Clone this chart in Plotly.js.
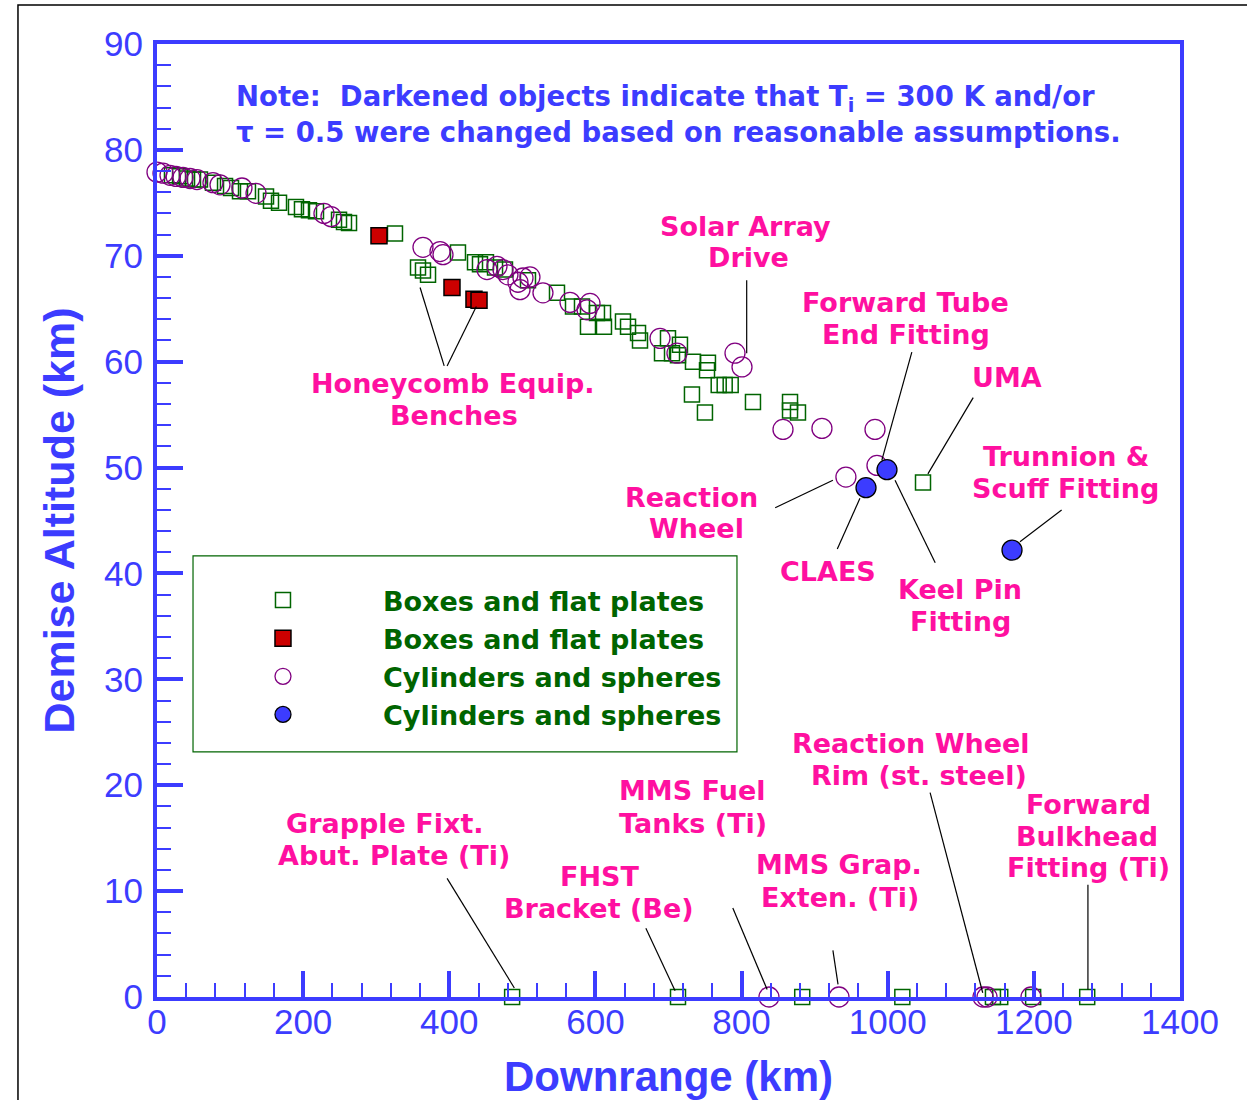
<!DOCTYPE html>
<html>
<head>
<meta charset="utf-8">
<script src="https://cdn.plot.ly/plotly-3.0.1.min.js"></script>
<style>html,body{margin:0;padding:0;background:#fff;}#chart{width:1247px;height:1100px;}</style>
</head>
<body>
<div id="chart"></div>
<script>
// ---- Data (downrange km, demise altitude km) ----
const boxOpenX = [20.5,31.5,41.1,49.3,58.8,76.6,93.1,101.3,113.6,124.5,149.2,156.0,167.0,190.2,198.4,208.0,217.6,249.1,255.9,262.8,325.7,
  357.2,364.0,370.9,411.9,435.2,442.0,450.2,462.6,476.2,507.7,547.4,569.3,581.6,602.1,610.4,589.8,611.7,637.7,644.6,658.3,661.0,699.3,715.7,
  691.1,704.8,713.0,733.5,754.0,752.7,768.7,776.9,785.1,732.1,749.9,815.6,866.3,866.3,877.2,1048.3,
  486,713,883,1020,1144,1154,1199,1273];
const boxOpenY = [77.6,77.5,77.3,77.2,77.2,76.9,76.6,76.4,76.1,76.1,75.6,75.2,75.0,74.6,74.4,74.3,74.2,73.4,73.2,73.1,72.1,
  68.9,68.6,68.2,70.3,69.4,69.2,69.4,68.9,68.7,67.7,66.5,65.2,65.2,64.6,64.6,63.3,63.3,63.8,63.3,62.7,62.0,62.2,61.6,
  60.8,60.8,60.6,60.0,59.9,59.2,57.8,57.8,57.8,56.9,55.2,56.2,56.2,55.4,55.2,48.6,
  0,0,0,0,0,0,0,0];

const boxDarkX = [303.8,403.7,433.8,440.7];
const boxDarkY = [71.9,67.0,65.9,65.8];

const cylOpenX = [0,8.2,17.8,26.0,35.6,45.2,54.7,76.6,86.2,116.3,135.5,228.5,238.1,
  364.0,387.3,391.4,451.6,465.3,473.5,480.3,494.0,500.9,510.4,496.8,528.2,565.2,592.6,588.5,
  688.4,711.6,791.0,800.6,856.7,910.0,982.6,985.3,942.8,
  837.5,933.3,1130.4,1135.9,1196.1];
const cylOpenY = [77.9,77.8,77.6,77.5,77.4,77.3,77.2,76.9,76.7,76.4,75.9,74.0,73.7,
  70.8,70.4,70.1,68.7,69.0,68.7,68.2,67.5,67.9,68.0,66.8,66.5,65.6,65.5,64.9,
  62.2,60.8,60.8,59.5,53.6,53.7,53.6,50.2,49.1,
  0,0,0,0,0];

const cylDarkX = [970.3,999.0,1170.1];
const cylDarkY = [48.1,49.8,42.2];

const seriesNames = ["Boxes and flat plates","Boxes and flat plates","Cylinders and spheres","Cylinders and spheres"];

// ---- Labels ----
const labelText = ["Solar Array","Drive","Forward Tube","End Fitting","UMA","Trunnion &","Scuff Fitting","Reaction","Wheel","CLAES",
  "Keel Pin","Fitting","Honeycomb Equip.","Benches","Reaction Wheel","Rim (st. steel)","Forward","Bulkhead","Fitting (Ti)",
  "MMS Fuel","Tanks (Ti)","MMS Grap.","Exten. (Ti)","FHST","Bracket (Be)","Grapple Fixt.","Abut. Plate (Ti)"];
const labelX = [806,809,1025,1025,1163,1244,1243,731,738,918,1099,1100,405,406,1032,1043,1275,1273,1275,732,733,933,935,605,605,312,324];
const labelY = [72.8,69.8,65.6,62.6,58.5,51.0,48.0,47.2,44.2,40.2,38.5,35.5,57.9,54.9,23.9,20.9,18.2,15.2,12.2,19.5,16.4,12.5,9.4,11.4,8.4,16.4,13.4];

// leader lines
const leadX0 = [807,1033,1117,1238,846,931,1010,360,437,1058,1274,788,925,669,397];
const leadY0 = [67.7,60.9,56.6,46.0,46.2,42.3,48.8,67.0,65.2,19.3,10.6,8.4,4.4,6.5,11.2];
const leadX1 = [807,992,1055,1181,925,962,1065,393,397,1130,1274,835,932,709,489];
const leadY1 = [60.8,50.7,49.4,43.0,48.8,47.1,41.0,59.6,59.6,0.4,0.7,0.7,1.2,0.6,0.85];

const noteText = "Note:  Darkened objects indicate that T<sub>i</sub> = 300 K and/or<br>" +
                 "\u03c4 = 0.5 were changed based on reasonable assumptions.";
const noteX = 105, noteY = 83.4;

// ---- Styles ----
const BLUE = '#3C3CFF', GREEN = '#006400', PINK = '#FF10A0', PURPLE = '#800080';
const labFont = {family: 'DejaVu Sans', size: 27, color: PINK, weight: 'bold'};

const traces = [
  {x: boxOpenX, y: boxOpenY, name: seriesNames[0], legendgroup: 'a', type: 'scatter', mode: 'markers', cliponaxis: false,
   marker: {symbol: 'square-open', size: 15, color: GREEN, line: {color: GREEN, width: 1.5}}},
  {x: boxDarkX, y: boxDarkY, name: seriesNames[1], legendgroup: 'b', type: 'scatter', mode: 'markers', cliponaxis: false,
   marker: {symbol: 'square', size: 16, color: '#CC0000', line: {color: '#000', width: 1.5}}},
  {x: cylOpenX, y: cylOpenY, name: seriesNames[2], legendgroup: 'c', type: 'scatter', mode: 'markers', cliponaxis: false,
   marker: {symbol: 'circle-open', size: 20, color: PURPLE, line: {color: PURPLE, width: 1.3}}},
  {x: cylDarkX, y: cylDarkY, name: seriesNames[3], legendgroup: 'd', type: 'scatter', mode: 'markers', cliponaxis: false,
   marker: {symbol: 'circle', size: 20, color: BLUE, line: {color: '#000', width: 1.3}}}
];

const annotations = [];
for (let i = 0; i < labelText.length; i++) {
  annotations.push({x: labelX[i], y: labelY[i], xref: 'x', yref: 'y', text: labelText[i], showarrow: false,
    xanchor: 'center', yanchor: 'middle', font: labFont});
}
annotations.push({x: noteX, y: noteY, xref: 'x', yref: 'y', text: noteText, showarrow: false, align: 'left',
  xanchor: 'left', yanchor: 'middle', font: {family: 'DejaVu Sans', size: 27.5, color: BLUE, weight: 'bold'}});

const shapes = [];
for (let i = 0; i < leadX0.length; i++) {
  shapes.push({type: 'line', xref: 'x', yref: 'y', x0: leadX0[i], y0: leadY0[i], x1: leadX1[i], y1: leadY1[i],
    line: {color: '#000', width: 1.2}, layer: 'above'});
}
// legend frame
shapes.push({type: 'rect', xref: 'x', yref: 'y', x0: 49.3, x1: 793.7, y0: 23.14, y1: 41.65,
  line: {color: GREEN, width: 1.2}, fillcolor: '#fff', layer: 'below'});
// outer figure frame
shapes.push({type: 'rect', xref: 'paper', yref: 'paper', x0: -0.1359, x1: 1.2, y0: -0.3, y1: 1.0409,
  line: {color: '#000', width: 1.5}, fillcolor: 'rgba(0,0,0,0)', layer: 'below'});

const axisCommon = {
  showgrid: false, zeroline: false, showline: true, linecolor: BLUE, linewidth: 4, mirror: true,
  ticks: 'inside', ticklen: 26, tickwidth: 4, tickcolor: BLUE,
  tickfont: {family: 'Liberation Sans, Arial, sans-serif', size: 35, color: BLUE},
};

const layout = {
  width: 1247, height: 1100,
  margin: {l: 157, r: 67, t: 44, b: 103},
  paper_bgcolor: '#fff', plot_bgcolor: 'rgba(0,0,0,0)',
  showlegend: true,
  legend: {x: 0.0254, y: 0.4417, xanchor: 'left', yanchor: 'top', bgcolor: 'rgba(0,0,0,0)', borderwidth: 0,
    itemwidth: 190, tracegroupgap: 6, traceorder: 'normal',
    font: {family: 'DejaVu Sans', size: 27, color: GREEN, weight: 'bold'}},
  xaxis: Object.assign({}, axisCommon, {range: [0, 1400], dtick: 200, tick0: 0,
    minor: {ticks: 'inside', ticklen: 14, tickwidth: 2, tickcolor: BLUE, dtick: 40, showgrid: false},
    ticklabelstandoff: -9,
    title: {text: 'Downrange (km)', standoff: 29, font: {family: 'Liberation Sans, Arial, sans-serif', size: 42, color: BLUE, weight: 'bold'}}}),
  yaxis: Object.assign({}, axisCommon, {range: [0, 90], dtick: 10, tick0: 0,
    minor: {ticks: 'inside', ticklen: 14, tickwidth: 2, tickcolor: BLUE, dtick: 2, showgrid: false},
    ticklabelstandoff: 3,
    title: {text: 'Demise Altitude (km)', standoff: 17, font: {family: 'Liberation Sans, Arial, sans-serif', size: 43, color: BLUE, weight: 'bold'}}}),
  annotations: annotations,
  shapes: shapes
};

Plotly.newPlot('chart', traces, layout, {displayModeBar: false, staticPlot: true});
</script>
</body>
</html>
